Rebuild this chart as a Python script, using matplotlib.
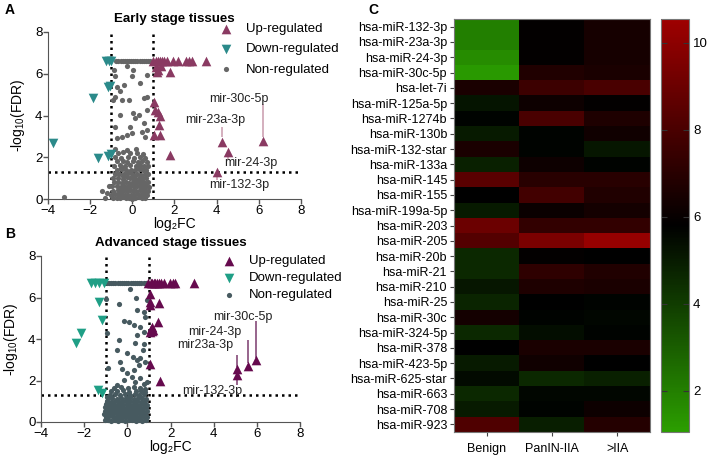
import numpy as np
import matplotlib
matplotlib.use('Agg')
import matplotlib.pyplot as plt
from matplotlib.colors import LinearSegmentedColormap

plt.rcParams['font.family'] = ['Liberation Sans', 'DejaVu Sans']
plt.rcParams['mathtext.default'] = 'regular'

# ---------------- volcano data: early stage (A) ----------------
a_up_x = [1.0, 1.1, 1.2, 1.3, 1.4, 1.5, 1.65, 1.95, 2.15, 2.55, 2.7, 2.85, 3.5,
          1.1, 1.2, 1.35, 1.15, 1.8,
          1.04, 1.09, 1.2, 1.3, 1.25, 1.04, 1.3, 1.8, 4.25, 4.53, 6.19, 4.0]
a_up_y = [6.6, 6.6, 6.6, 6.6, 6.6, 6.6, 6.6, 6.6, 6.6, 6.6, 6.6, 6.6, 6.6,
          6.3, 6.2, 6.35, 6.1, 6.1,
          4.67, 4.27, 4.15, 4.0, 3.55, 3.07, 3.07, 2.1, 2.75, 2.27, 2.8, 1.31]
a_down_x = [-1.24, -1.12, -1.02, -1.17, -1.05, -1.87, -3.76, -1.63, -1.17, -1.0]
a_down_y = [6.59, 6.59, 6.59, 5.36, 5.42, 4.83, 2.67, 1.95, 2.06, 2.16]
a_non_x = [-0.76, -0.66, -0.56, -0.46, -0.36, -0.26, -0.16, -0.06, 0.04, 0.14, 0.24, 0.34,
           0.44, 0.54, 0.64, 0.74, 0.84,
           -0.89, -0.26, 0.05, -0.8, -0.02, 0.69, -0.73, -0.41, 0.38, -0.81, -0.57, -0.18,
           0.53, 0.69, 0.69, 0.3, 0.05, -0.57, 0.13, -0.81, -0.1, 0.53, 0.69, 0.45, -0.73,
           -0.26, -0.02, -0.49, 0.61, -0.81, -0.26, 0.19, -0.92, -0.49,
           -3.26, -1.45, -1.3, -1.2, -1.1,
           -0.7, -0.42, -0.12, 0.22, 0.5,
           -0.82, -0.55, -0.2, 0.1, 0.36, 0.62,
           -0.75, -0.46, -0.24, 0.02, 0.26, 0.44, 0.71,
           -0.86, -0.6, -0.35, -0.1, 0.16, 0.35, 0.56, 0.76,
           -0.71, -0.5, -0.3, -0.04, 0.11, 0.31, 0.49, 0.66,
           -0.8, -0.61, -0.41, -0.19, 0.0, 0.21, 0.4, 0.6, 0.75,
           -0.9, -0.66, -0.45, -0.26, -0.1, 0.05, 0.19, 0.36, 0.5, 0.66,
           -0.86, -0.69, -0.51, -0.31, -0.15, 0.01, 0.15, 0.3, 0.46, 0.6, 0.76,
           -0.96, -0.75, -0.56, -0.4, -0.24, -0.1, 0.06, 0.21, 0.35, 0.5, 0.64, 0.8,
           -0.9, -0.7, -0.54, -0.41, -0.25, -0.09, 0.04, 0.19, 0.35, 0.51, 0.62, 0.75,
           -1.0, -0.8, -0.64, -0.5, -0.35, -0.21, -0.05, 0.1, 0.26, 0.4, 0.55, 0.7,
           -0.9, -0.74, -0.6, -0.45, -0.3, -0.16, 0.0, 0.15, 0.31, 0.45, 0.6,
           -0.62, -0.3, 0.0, 0.3, 0.55, -0.45, -0.15, 0.15, 0.42, -0.55, -0.2, 0.1, 0.38]
a_non_y = [6.6] * 17 + \
          [6.19, 6.38, 6.19, 5.87, 5.87, 5.95, 5.36, 5.47, 5.55, 4.91, 5.15, 4.75,
           4.83, 4.91, 4.27, 4.03, 4.11, 4.03, 3.87, 3.47, 3.47, 3.63, 3.31, 3.23, 2.91,
           3.07, 3.15, 2.99, 2.99, 2.38, 2.35, 2.38, 4.72, 4.75,
           0.11, 0.4, 0.03, 0.27, 0.6,
           2.2, 2.24, 2.18, 2.22, 2.15,
           2.0, 1.98, 2.03, 1.97, 2.01, 1.96,
           1.8, 1.83, 1.78, 1.81, 1.79, 1.84, 1.77,
           1.6, 1.62, 1.58, 1.63, 1.59, 1.61, 1.57, 1.6,
           1.4, 1.43, 1.38, 1.41, 1.39, 1.42, 1.37, 1.4,
           1.2, 1.22, 1.18, 1.23, 1.19, 1.21, 1.17, 1.2, 1.22,
           1.0, 1.02, 0.98, 1.03, 0.99, 1.01, 0.97, 1.04, 1.0, 1.02,
           0.8, 0.83, 0.78, 0.81, 0.79, 0.82, 0.77, 0.8, 0.84, 0.79, 0.81,
           0.6, 0.62, 0.58, 0.63, 0.59, 0.61, 0.57, 0.6, 0.64, 0.59, 0.61, 0.58,
           0.4, 0.42, 0.38, 0.43, 0.39, 0.41, 0.37, 0.4, 0.44, 0.39, 0.41, 0.38,
           0.2, 0.22, 0.18, 0.23, 0.19, 0.21, 0.17, 0.2, 0.24, 0.19, 0.21, 0.18,
           0.05, 0.07, 0.03, 0.08, 0.04, 0.06, 0.02, 0.05, 0.09, 0.04, 0.06,
           0.3, 0.5, 0.7, 0.9, 0.3, 1.1, 0.5, 0.9, 0.7, 1.5, 1.3, 1.1, 1.5]
a_lab = ['mir-30c-5p', 'mir-23a-3p', 'mir-24-3p', 'mir-132-3p']
a_lab_xy = [(5.04, 4.8), (3.93, 3.8), (5.64, 1.72), (5.05, 0.67)]
a_lab_line = [(6.19, 2.95, 4.55), (4.25, 2.95, 3.47), (4.53, 1.87, 2.3), (4.0, 0.91, 1.25)]

# ---------------- volcano data: advanced stage (B) ----------------
b_up_x = [0.98, 1.08, 1.14, 1.22, 1.29, 1.37, 1.45, 1.55, 1.68, 1.99, 2.1, 2.2, 3.07,
          1.06, 1.06, 1.03, 1.49, 1.40, 1.1, 1.15, 1.2, 1.05, 1.12, 1.03, 1.52,
          5.07, 5.1, 5.57, 5.97]
b_up_y = [6.72] * 13 + \
         [6.19, 5.79, 5.63, 5.74, 4.83, 4.5, 4.4, 4.45, 4.35, 4.6, 2.78, 1.98,
          2.27, 2.54, 2.7, 2.99]
b_down_x = [-1.69, -1.49, -1.29, -1.08, -1.33, -1.18, -2.15, -2.36, -1.38, -1.18]
b_down_y = [6.72, 6.72, 6.72, 6.72, 5.79, 4.91, 4.27, 3.79, 1.55, 1.39]
b_non_x = [-0.95, -0.85, -0.75, -0.65, -0.55, -0.45, -0.35, -0.25, -0.15, -0.05, 0.05,
           0.15, 0.25, 0.35, 0.45, 0.55, 0.65, 0.75, 0.85,
           0.14, -0.98, 0.41, 0.91, -0.4, 0.44, 0.78, 0.83, -0.17, 0.1, 0.29, 0.6, 0.75,
           -0.94, -0.4, 0.44, 0.37, 0.78, 0.72, -0.48, -0.02, -0.33, 0.26, 0.44, 0.6, 0.52,
           0.83, -0.91, -0.25, 0.29, -0.02, 0.21, -0.17, 0.6, -0.48, 0.37, 0.75, 0.91,
           -0.92, -0.93, -0.95, -0.9,
           -0.62, -0.3, 0.02, 0.3, 0.58, 0.8,
           -0.74, -0.48, -0.2, 0.1, 0.4, 0.62, 0.84,
           -0.82, -0.58, -0.36, -0.12, 0.14, 0.36, 0.56, 0.76,
           -0.9, -0.7, -0.5, -0.3, -0.08, 0.12, 0.3, 0.5, 0.7, 0.88,
           -0.95, -0.76, -0.58, -0.4, -0.22, -0.04, 0.14, 0.3, 0.46, 0.62, 0.8,
           -1.0, -0.84, -0.66, -0.5, -0.34, -0.18, -0.02, 0.14, 0.3, 0.46, 0.62, 0.78, 0.9,
           -1.05, -0.88, -0.72, -0.56, -0.4, -0.24, -0.08, 0.08, 0.24, 0.4, 0.56, 0.72, 0.86,
           -1.02, -0.86, -0.7, -0.54, -0.38, -0.22, -0.06, 0.1, 0.26, 0.42, 0.58, 0.74, 0.9,
           -1.08, -0.92, -0.76, -0.6, -0.44, -0.28, -0.12, 0.04, 0.2, 0.36, 0.52, 0.68, 0.84,
           -1.0, -0.84, -0.68, -0.52, -0.36, -0.2, -0.04, 0.12, 0.28, 0.44, 0.6, 0.76, 0.9,
           -1.05, -0.9, -0.74, -0.58, -0.42, -0.26, -0.1, 0.06, 0.22, 0.38, 0.54, 0.7, 0.86,
           -0.5, -0.2, 0.2, 0.5, -0.65, -0.35, 0.05, 0.35, 0.65, -0.1, -0.45, 0.15]
b_non_y = [6.72] * 19 + \
          [6.4, 5.95, 5.98, 5.87, 5.71, 5.39, 5.28, 5.07, 4.86, 4.8, 4.67, 4.59, 4.35,
           4.27, 3.95, 4.19, 3.79, 3.76, 3.47, 3.47, 3.31, 2.91, 3.15, 2.99, 3.07, 2.75,
           2.91, 2.59, 2.56, 2.51, 2.35, 2.19, 2.03, 2.11, 1.79, 1.95, 1.82, 1.95,
           1.2, 0.9, 0.6, 0.3,
           1.65, 1.7, 1.62, 1.68, 1.64, 1.6,
           1.5, 1.47, 1.52, 1.45, 1.5, 1.48, 1.44,
           1.32, 1.35, 1.3, 1.34, 1.31, 1.36, 1.29, 1.33,
           1.15, 1.18, 1.13, 1.17, 1.14, 1.19, 1.12, 1.16, 1.15, 1.1,
           1.0, 0.98, 1.02, 0.97, 1.01, 0.99, 1.03, 0.96, 1.0, 0.98, 1.02,
           0.85, 0.83, 0.87, 0.84, 0.86, 0.82, 0.88, 0.84, 0.86, 0.83, 0.87, 0.85, 0.82,
           0.7, 0.72, 0.68, 0.71, 0.69, 0.73, 0.67, 0.7, 0.72, 0.68, 0.71, 0.69, 0.7,
           0.55, 0.57, 0.53, 0.56, 0.54, 0.58, 0.52, 0.55, 0.57, 0.53, 0.56, 0.54, 0.55,
           0.4, 0.42, 0.38, 0.41, 0.39, 0.43, 0.37, 0.4, 0.42, 0.38, 0.41, 0.39, 0.4,
           0.25, 0.27, 0.23, 0.26, 0.24, 0.28, 0.22, 0.25, 0.27, 0.23, 0.26, 0.24, 0.25,
           0.08, 0.1, 0.06, 0.09, 0.07, 0.11, 0.05, 0.08, 0.1, 0.06, 0.09, 0.07, 0.08,
           0.15, 0.32, 0.48, 0.62, 0.78, 0.93, 1.08, 0.2, 0.35, 0.5, 0.12, 0.65]
b_lab = ['mir-30c-5p', 'mir-24-3p', 'mir23a-3p', 'mir-132-3p']
b_lab_xy = [(5.35, 5.07), (4.07, 4.35), (3.61, 3.71), (3.92, 1.47)]
b_lab_line = [(5.97, 3.1, 4.86), (5.57, 2.85, 3.95), (5.1, 2.65, 3.23), (5.07, 1.8, 2.1)]

# ---------------- heatmap data (C) ----------------
mirnas = ['hsa-miR-132-3p', 'hsa-miR-23a-3p', 'hsa-miR-24-3p', 'hsa-miR-30c-5p',
          'hsa-let-7i', 'hsa-miR-125a-5p', 'hsa-miR-1274b', 'hsa-miR-130b',
          'hsa-miR-132-star', 'hsa-miR-133a', 'hsa-miR-145', 'hsa-miR-155',
          'hsa-miR-199a-5p', 'hsa-miR-203', 'hsa-miR-205', 'hsa-miR-20b', 'hsa-miR-21',
          'hsa-miR-210', 'hsa-miR-25', 'hsa-miR-30c', 'hsa-miR-324-5p', 'hsa-miR-378',
          'hsa-miR-423-5p', 'hsa-miR-625-star', 'hsa-miR-663', 'hsa-miR-708', 'hsa-miR-923']
groups = ['Benign', 'PanIN-IIA', '>IIA']
benign = [2.0, 2.0, 1.6, 1.2, 6.6, 5.2, 5.7, 5.0, 6.6, 4.8, 8.5, 5.8, 5.0, 9.0, 8.3,
          4.6, 4.6, 5.1, 4.7, 6.4, 4.6, 5.8, 5.0, 5.5, 4.6, 5.0, 8.2]
panin = [5.9, 5.9, 5.9, 6.8, 7.6, 6.2, 8.0, 5.7, 5.7, 6.2, 7.0, 7.8, 6.1, 7.3, 9.5,
         5.9, 7.2, 6.7, 5.8, 5.7, 5.4, 6.6, 6.3, 4.6, 5.6, 5.7, 4.9]
adv = [6.5, 6.5, 6.5, 6.6, 8.0, 5.9, 6.7, 6.3, 5.1, 5.7, 7.0, 6.8, 6.4, 7.3, 10.3,
       5.8, 6.8, 6.6, 5.7, 5.6, 5.7, 6.6, 5.8, 4.8, 5.6, 6.2, 6.9]
cbar_ticks = [2, 4, 6, 8, 10]

fig = plt.figure(figsize=(7.08, 4.58), dpi=100)


def volcano(rect, title, up, down, non, cols, labs, lab_xy, lab_line, line_col, leg_anchor, leg_space):
    ax = fig.add_axes(rect)
    ax.axhline(1.3, color='black', ls=(0, (1, 1.6)), lw=1.8, zorder=1)
    ax.axvline(-1, color='black', ls=(0, (1, 1.6)), lw=1.8, zorder=1)
    ax.axvline(1, color='black', ls=(0, (1, 1.6)), lw=1.8, zorder=1)
    hn = ax.scatter(non[0], non[1], s=14, color=cols[2], marker='o', lw=0, zorder=3, clip_on=False)
    hu = ax.scatter(up[0], up[1], s=48, color=cols[0], marker='^', lw=0, zorder=4, clip_on=False)
    hd = ax.scatter(down[0], down[1], s=48, color=cols[1], marker='v', lw=0, zorder=4, clip_on=False)
    for t, (tx, ty), (lx, y0, y1) in zip(labs, lab_xy, lab_line):
        ax.vlines(lx, y0, y1, color=line_col, lw=1.1, zorder=2)
        ax.text(tx, ty, t, ha='center', va='center', fontsize=9, color='#222222', zorder=5)
    ax.set_xlim(-4, 8)
    ax.set_ylim(0, 8)
    ax.set_xticks([-4, -2, 0, 2, 4, 6, 8])
    ax.set_yticks([0, 2, 4, 6, 8])
    for s in ['top', 'right']:
        ax.spines[s].set_visible(False)
    for s in ['left', 'bottom']:
        ax.spines[s].set_color('#555555')
    ax.tick_params(labelsize=9.5, color='#555555', length=3.5, width=1, pad=0.5)
    ax.set_xlabel('log\u2082FC', fontsize=10, labelpad=0)
    ax.set_ylabel('-log$_{10}$(FDR)', fontsize=10, labelpad=6)
    ax.set_title(title, fontsize=9.6, fontweight='bold', pad=7)
    ax.legend([hu, hd, hn], ['Up-regulated', 'Down-regulated', 'Non-regulated'],
              loc='upper left', bbox_to_anchor=leg_anchor, bbox_transform=fig.transFigure,
              frameon=False, fontsize=9.5, handletextpad=0.9, labelspacing=leg_space,
              borderaxespad=0, borderpad=0, handlelength=1.2)
    return ax


volcano([48 / 708, 1 - 199 / 458, 253 / 708, 167 / 458], 'Early stage tissues',
        (a_up_x, a_up_y), (a_down_x, a_down_y), (a_non_x, a_non_y),
        ['#8a3a62', '#2b8a8a', '#666666'], a_lab, a_lab_xy, a_lab_line, '#c99aac',
        (218 / 708, 1 - 23 / 458), 0.6)
volcano([41 / 708, 1 - 422 / 458, 259 / 708, 166 / 458], 'Advanced stage tissues',
        (b_up_x, b_up_y), (b_down_x, b_down_y), (b_non_x, b_non_y),
        ['#660a4e', '#1f9f86', '#475a60'], b_lab, b_lab_xy, b_lab_line, '#7a3a6e',
        (221 / 708, 1 - 255 / 458), 0.36)

# heatmap
cmap = LinearSegmentedColormap.from_list('gkr', [(0.17, 0.62, 0.0), (0, 0, 0), (0.62, 0.0, 0.0)])
hax = fig.add_axes([454 / 708, 1 - 432 / 458, 196 / 708, 413 / 458])
mat = np.array([benign, panin, adv]).T
im = hax.imshow(mat, aspect='auto', cmap=cmap, vmin=1.05, vmax=10.55, interpolation='nearest')
hax.set_yticks(range(len(mirnas)))
hax.set_yticklabels(mirnas, fontsize=9)
hax.set_xticks(range(len(groups)))
hax.set_xticklabels(groups, fontsize=9)
hax.tick_params(axis='y', length=3, color='#444444', pad=2)
hax.tick_params(axis='x', length=3, color='#444444', pad=5)
for s in hax.spines.values():
    s.set_color('#777777')

cax = fig.add_axes([661 / 708, 1 - 432 / 458, 28 / 708, 413 / 458])
cb = fig.colorbar(im, cax=cax, ticks=cbar_ticks)
cb.outline.set_edgecolor('#777777')
cax.tick_params(direction='in', left=True, right=True, length=4, color='#333333', labelsize=9.5, pad=3)

fig.text(5 / 708, 1 - 10 / 458, 'A', fontsize=10, fontweight='bold', va='center')
fig.text(5 / 708, 1 - 234 / 458, 'B', fontsize=10, fontweight='bold', va='center')
fig.text(368 / 708, 1 - 10 / 458, 'C', fontsize=10, fontweight='bold', va='center')

fig.savefig('out.png', dpi=100)
